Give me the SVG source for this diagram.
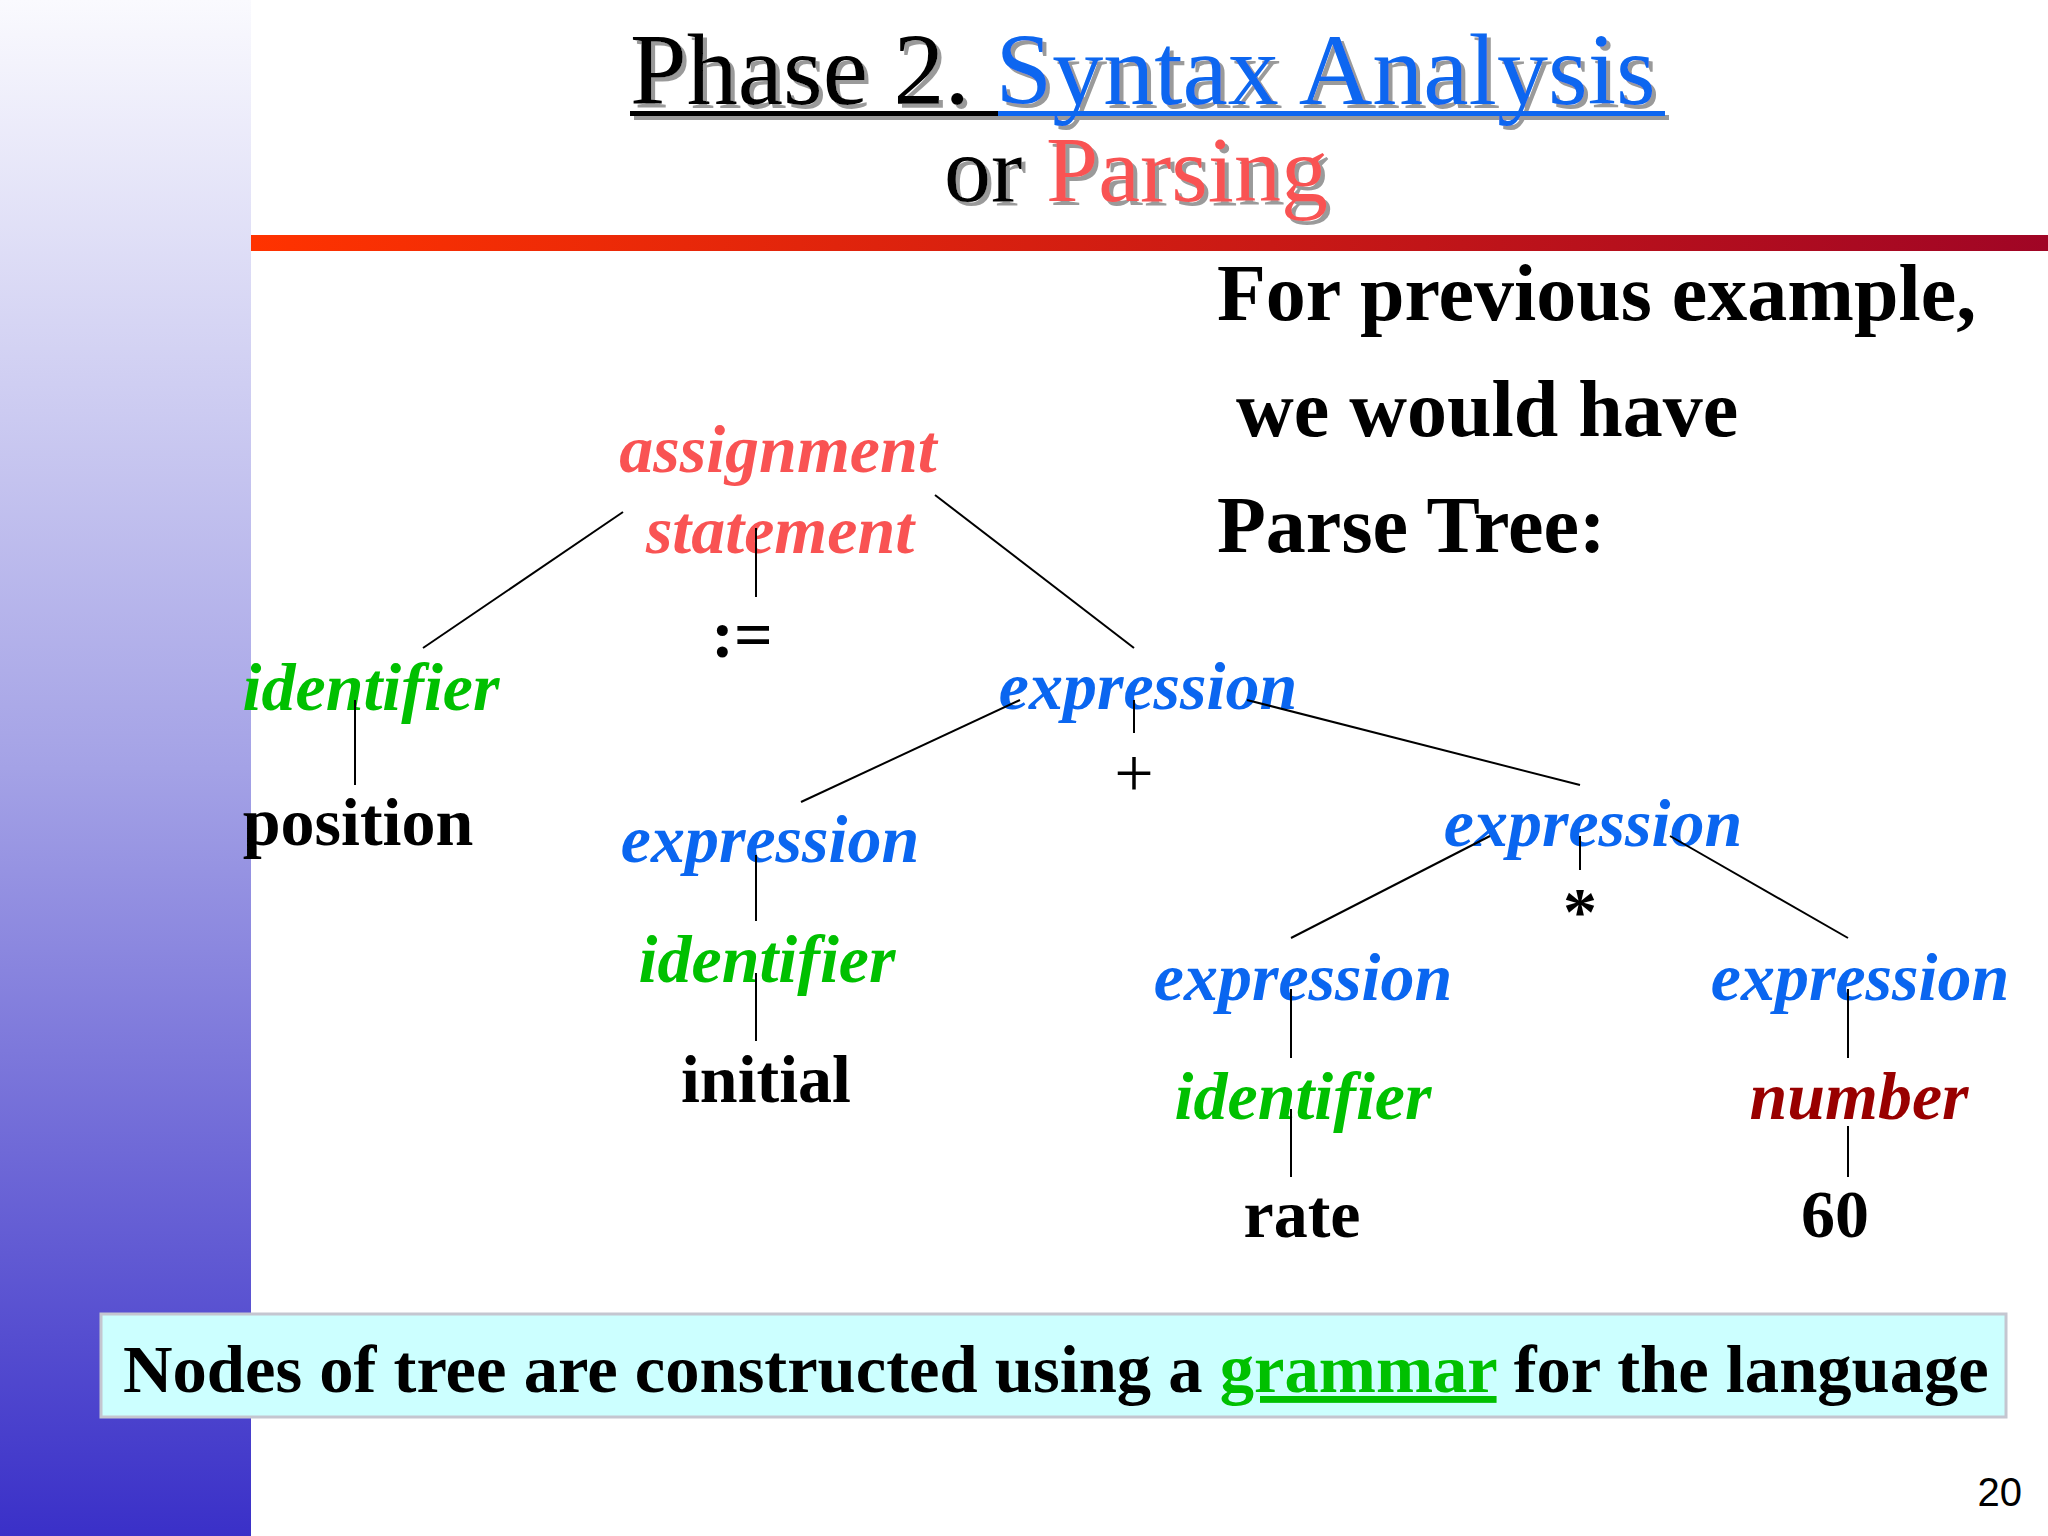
<svg xmlns="http://www.w3.org/2000/svg" width="2048" height="1536" viewBox="0 0 2048 1536">
<defs>
<linearGradient id="side" x1="0" y1="0" x2="0" y2="1">
<stop offset="0" stop-color="#fafafe"/>
<stop offset="0.5" stop-color="#a4a2e6"/>
<stop offset="1" stop-color="#3a30c8"/>
</linearGradient>
<linearGradient id="bar" x1="0" y1="0" x2="1" y2="0">
<stop offset="0" stop-color="#ff3300"/>
<stop offset="1" stop-color="#a00525"/>
</linearGradient>
<filter id="shadow" x="-5%" y="-20%" width="110%" height="140%">
<feDropShadow dx="4" dy="4" stdDeviation="0.6" flood-color="#9a9a9a" flood-opacity="1"/>
</filter>
<style>
.serif{font-family:"Liberation Serif","Times New Roman",serif}
.title{font-size:102px;fill:#000}
.sub{font-size:80px;font-weight:bold;fill:#000}
.nt{font-size:68px;font-weight:bold;font-style:italic;text-anchor:middle}
.tk{font-size:68px;font-weight:bold;fill:#000;text-anchor:middle}
.red{fill:#f95353}
.green{fill:#00c000}
.blue{fill:#0a66f0}
.dred{fill:#990000}
.edge{stroke:#000;stroke-width:2;fill:none}
</style>
</defs>
<rect width="2048" height="1536" fill="#fff"/>
<rect id="sidebar" x="0" y="0" width="251" height="1536" fill="url(#side)"/>
<rect id="redbar" x="251" y="235" width="1797" height="16" fill="url(#bar)"/>

<g id="title" filter="url(#shadow)">
<text class="serif title" x="630" y="104">Phase 2. <tspan fill="#0a66f0">Syntax Analysis</tspan></text>
<rect x="630" y="111" width="368" height="5" fill="#000"/>
<rect x="998" y="111" width="667" height="5" fill="#0a66f0"/>
<text class="serif" x="1136" y="201" font-size="94" text-anchor="middle" fill="#000">or <tspan fill="#f95353">Parsing</tspan></text>
</g>

<g id="intro">
<text class="serif sub" x="1217" y="320">For previous example,</text>
<text class="serif sub" x="1236" y="436">we would have</text>
<text class="serif sub" x="1217" y="552">Parse Tree:</text>
</g>

<g id="n-assign"><text class="serif nt red" x="778" y="472">assignment</text><text class="serif nt red" x="780" y="553">statement</text></g>
<g id="n-assignop"><text class="serif tk" x="742" y="657">:=</text></g>
<g id="n-id1"><text class="serif nt green" x="371" y="710">identifier</text></g>
<g id="n-position"><text class="serif tk" x="358" y="845">position</text></g>
<g id="n-expr1"><text class="serif nt blue" x="1148" y="709">expression</text></g>
<g id="n-plus"><text class="serif" x="1134" y="797" font-size="70" text-anchor="middle" fill="#000">+</text></g>
<g id="n-expr2"><text class="serif nt blue" x="770" y="862">expression</text></g>
<g id="n-id2"><text class="serif nt green" x="767" y="982">identifier</text></g>
<g id="n-initial"><text class="serif tk" x="766" y="1102">initial</text></g>
<g id="n-expr3"><text class="serif nt blue" x="1593" y="846">expression</text></g>
<g id="n-times"><text class="serif tk" x="1580" y="934">*</text></g>
<g id="n-expr4"><text class="serif nt blue" x="1303" y="1000">expression</text></g>
<g id="n-id3"><text class="serif nt green" x="1303" y="1119">identifier</text></g>
<g id="n-rate"><text class="serif tk" x="1302" y="1237">rate</text></g>
<g id="n-expr5"><text class="serif nt blue" x="1860" y="1000">expression</text></g>
<g id="n-number"><text class="serif nt dred" x="1859" y="1119">number</text></g>
<g id="n-60"><text class="serif tk" x="1835" y="1237">60</text></g>

<g id="connectors">
<line class="edge" x1="623" y1="512" x2="423" y2="648"/>
<line class="edge" x1="756" y1="528" x2="756" y2="597"/>
<line class="edge" x1="935" y1="495" x2="1134" y2="648"/>
<line class="edge" x1="355" y1="700" x2="355" y2="785"/>
<line class="edge" x1="1020" y1="700" x2="801" y2="802"/>
<line class="edge" x1="1134" y1="700" x2="1134" y2="733"/>
<line class="edge" x1="1247" y1="700" x2="1580" y2="785"/>
<line class="edge" x1="756" y1="855" x2="756" y2="921"/>
<line class="edge" x1="756" y1="973" x2="756" y2="1041"/>
<line class="edge" x1="1490" y1="836" x2="1291" y2="938"/>
<line class="edge" x1="1580" y1="836" x2="1580" y2="870"/>
<line class="edge" x1="1670" y1="836" x2="1848" y2="938"/>
<line class="edge" x1="1291" y1="989" x2="1291" y2="1058"/>
<line class="edge" x1="1291" y1="1109" x2="1291" y2="1177"/>
<line class="edge" x1="1848" y1="989" x2="1848" y2="1058"/>
<line class="edge" x1="1848" y1="1126" x2="1848" y2="1177"/>
</g>

<g id="note">
<rect x="101" y="1314" width="1905" height="103" fill="#ccffff" stroke="#c4c6d0" stroke-width="3"/>
<text class="serif" x="123" y="1392" font-size="68.6" font-weight="bold" fill="#000">Nodes of tree are constructed using a <tspan fill="#00c000" text-decoration="underline">grammar</tspan> for the language</text>
</g>

<g id="page"><text x="2022" y="1506" font-family="'Liberation Sans',Arial,sans-serif" font-size="40" text-anchor="end" fill="#000">20</text></g>
</svg>
